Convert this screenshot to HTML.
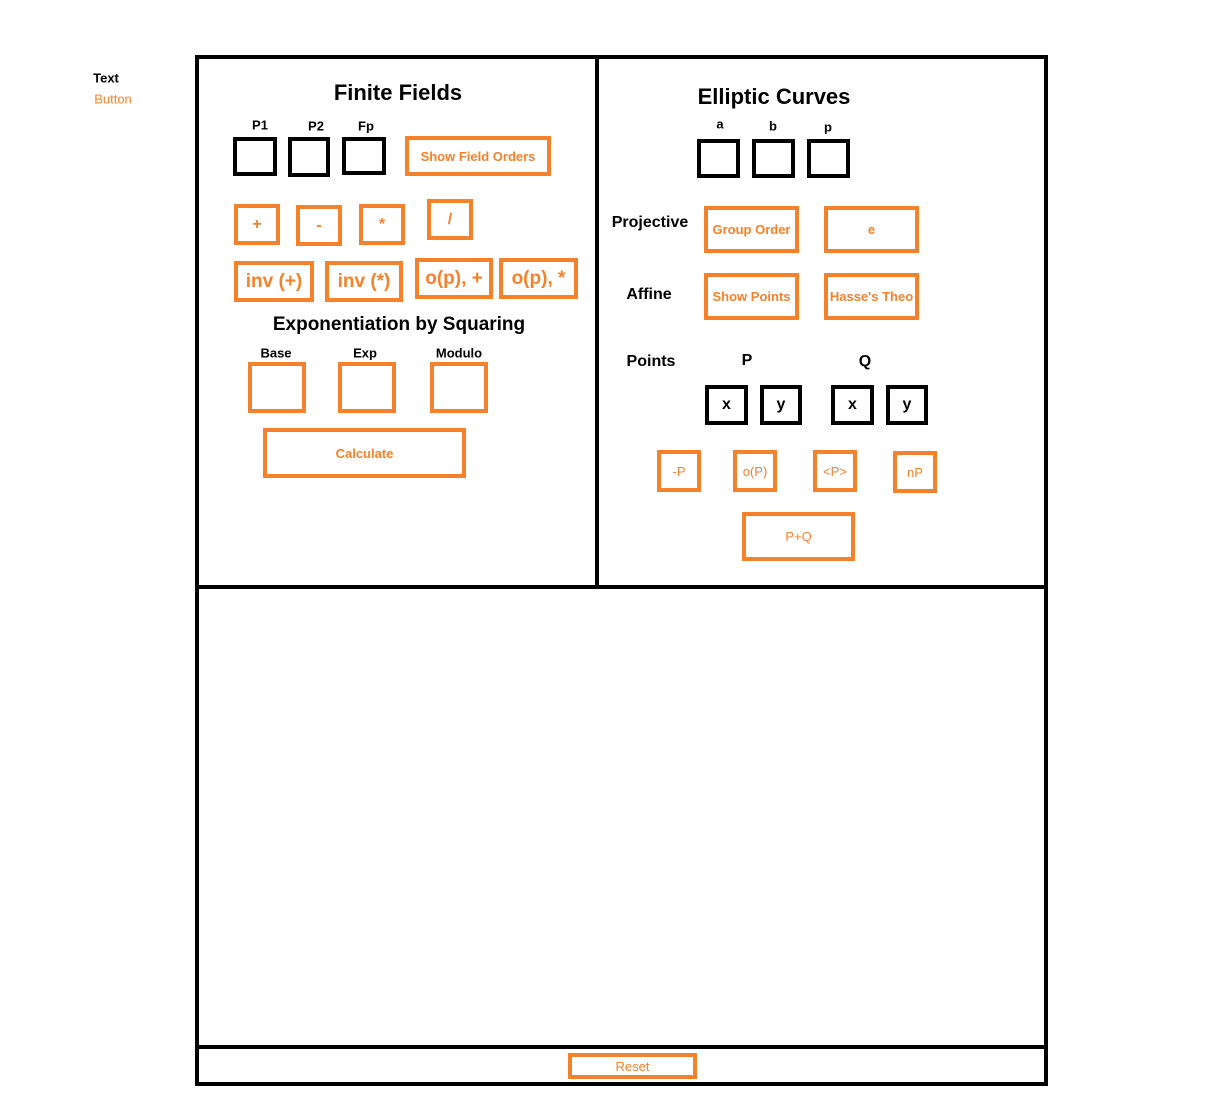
<!DOCTYPE html>
<html><head><meta charset="utf-8"><style>
body{margin:0;width:1218px;height:1110px;background:#fff;position:relative;overflow:hidden;font-family:"Liberation Sans",Arial,sans-serif;}
.b{position:absolute;box-sizing:border-box;border:4px solid #000;}
.o{position:absolute;box-sizing:border-box;border:4px solid #f5822a;color:#f5822a;font-weight:bold;display:flex;align-items:center;justify-content:center;font-size:13px;white-space:nowrap;overflow:hidden;}
.k{position:absolute;box-sizing:border-box;border:4px solid #000;display:flex;align-items:center;justify-content:center;font-weight:bold;font-size:16px;}
.t{position:absolute;font-weight:bold;color:#000;transform:translate(-50%,-50%);white-space:nowrap;}
.bar{position:absolute;background:#000;}
</style></head><body>
<div class="t" style="left:106px;top:78px;font-size:13px">Text</div>
<div class="t" style="left:113px;top:99px;font-size:13px;color:#f5822a;font-weight:normal">Button</div>

<div class="b" style="left:195px;top:55px;width:853px;height:1031px"></div>
<div class="bar" style="left:595px;top:57px;width:4px;height:530px"></div>
<div class="bar" style="left:197px;top:585px;width:849px;height:4px"></div>
<div class="bar" style="left:197px;top:1045px;width:849px;height:4px"></div>

<div class="t" style="left:398px;top:93px;font-size:22px">Finite Fields</div>
<div class="t" style="left:260px;top:125px;font-size:13px">P1</div>
<div class="t" style="left:316px;top:126px;font-size:13px">P2</div>
<div class="t" style="left:366px;top:126px;font-size:13px">Fp</div>
<div class="b" style="left:233px;top:137px;width:44px;height:39px"></div>
<div class="b" style="left:288px;top:137px;width:42px;height:40px"></div>
<div class="b" style="left:342px;top:137px;width:44px;height:38px"></div>
<div class="o" style="left:405px;top:136px;width:146px;height:40px">Show Field Orders</div>
<div class="o" style="left:234px;top:204px;width:46px;height:41px;font-size:16px">+</div>
<div class="o" style="left:296px;top:205px;width:46px;height:41px;font-size:16px">-</div>
<div class="o" style="left:359px;top:204px;width:46px;height:41px;font-size:16px">*</div>
<div class="o" style="left:427px;top:199px;width:46px;height:41px;font-size:16px">/</div>
<div class="o" style="left:234px;top:261px;width:80px;height:41px;font-size:19px">inv (+)</div>
<div class="o" style="left:325px;top:261px;width:78px;height:41px;font-size:19px">inv (*)</div>
<div class="o" style="left:415px;top:258px;width:78px;height:41px;font-size:19px">o(p), +</div>
<div class="o" style="left:499px;top:258px;width:79px;height:41px;font-size:19px">o(p), *</div>
<div class="t" style="left:399px;top:325px;font-size:19px">Exponentiation by Squaring</div>
<div class="t" style="left:276px;top:353px;font-size:13px">Base</div>
<div class="t" style="left:365px;top:353px;font-size:13px">Exp</div>
<div class="t" style="left:459px;top:353px;font-size:13px">Modulo</div>
<div class="o" style="left:248px;top:362px;width:58px;height:51px"></div>
<div class="o" style="left:338px;top:362px;width:58px;height:51px"></div>
<div class="o" style="left:430px;top:362px;width:58px;height:51px"></div>
<div class="o" style="left:263px;top:428px;width:203px;height:50px">Calculate</div>

<div class="t" style="left:774px;top:97px;font-size:22px">Elliptic Curves</div>
<div class="t" style="left:720px;top:124px;font-size:13px">a</div>
<div class="t" style="left:773px;top:126px;font-size:13px">b</div>
<div class="t" style="left:828px;top:127px;font-size:13px">p</div>
<div class="b" style="left:697px;top:139px;width:43px;height:39px"></div>
<div class="b" style="left:752px;top:139px;width:43px;height:39px"></div>
<div class="b" style="left:807px;top:139px;width:43px;height:39px"></div>
<div class="t" style="left:650px;top:223px;font-size:16px">Projective</div>
<div class="o" style="left:704px;top:206px;width:95px;height:47px">Group Order</div>
<div class="o" style="left:824px;top:206px;width:95px;height:47px">e</div>
<div class="t" style="left:649px;top:295px;font-size:16px">Affine</div>
<div class="o" style="left:704px;top:273px;width:95px;height:47px">Show Points</div>
<div class="o" style="left:824px;top:273px;width:95px;height:47px">Hasse's Theo</div>
<div class="t" style="left:651px;top:362px;font-size:16px">Points</div>
<div class="t" style="left:747px;top:361px;font-size:16px">P</div>
<div class="t" style="left:865px;top:362px;font-size:16px">Q</div>
<div class="k" style="left:705px;top:385px;width:43px;height:40px">x</div>
<div class="k" style="left:760px;top:385px;width:42px;height:40px">y</div>
<div class="k" style="left:831px;top:385px;width:43px;height:40px">x</div>
<div class="k" style="left:886px;top:385px;width:42px;height:40px">y</div>
<div class="o" style="left:657px;top:450px;width:44px;height:42px;font-weight:normal">-P</div>
<div class="o" style="left:733px;top:450px;width:44px;height:42px;font-weight:normal">o(P)</div>
<div class="o" style="left:813px;top:450px;width:44px;height:42px;font-weight:normal">&lt;P&gt;</div>
<div class="o" style="left:893px;top:451px;width:44px;height:42px;font-weight:normal">nP</div>
<div class="o" style="left:742px;top:512px;width:113px;height:49px;font-weight:normal">P+Q</div>
<div class="o" style="left:568px;top:1053px;width:129px;height:26px;font-weight:normal">Reset</div>
</body></html>
